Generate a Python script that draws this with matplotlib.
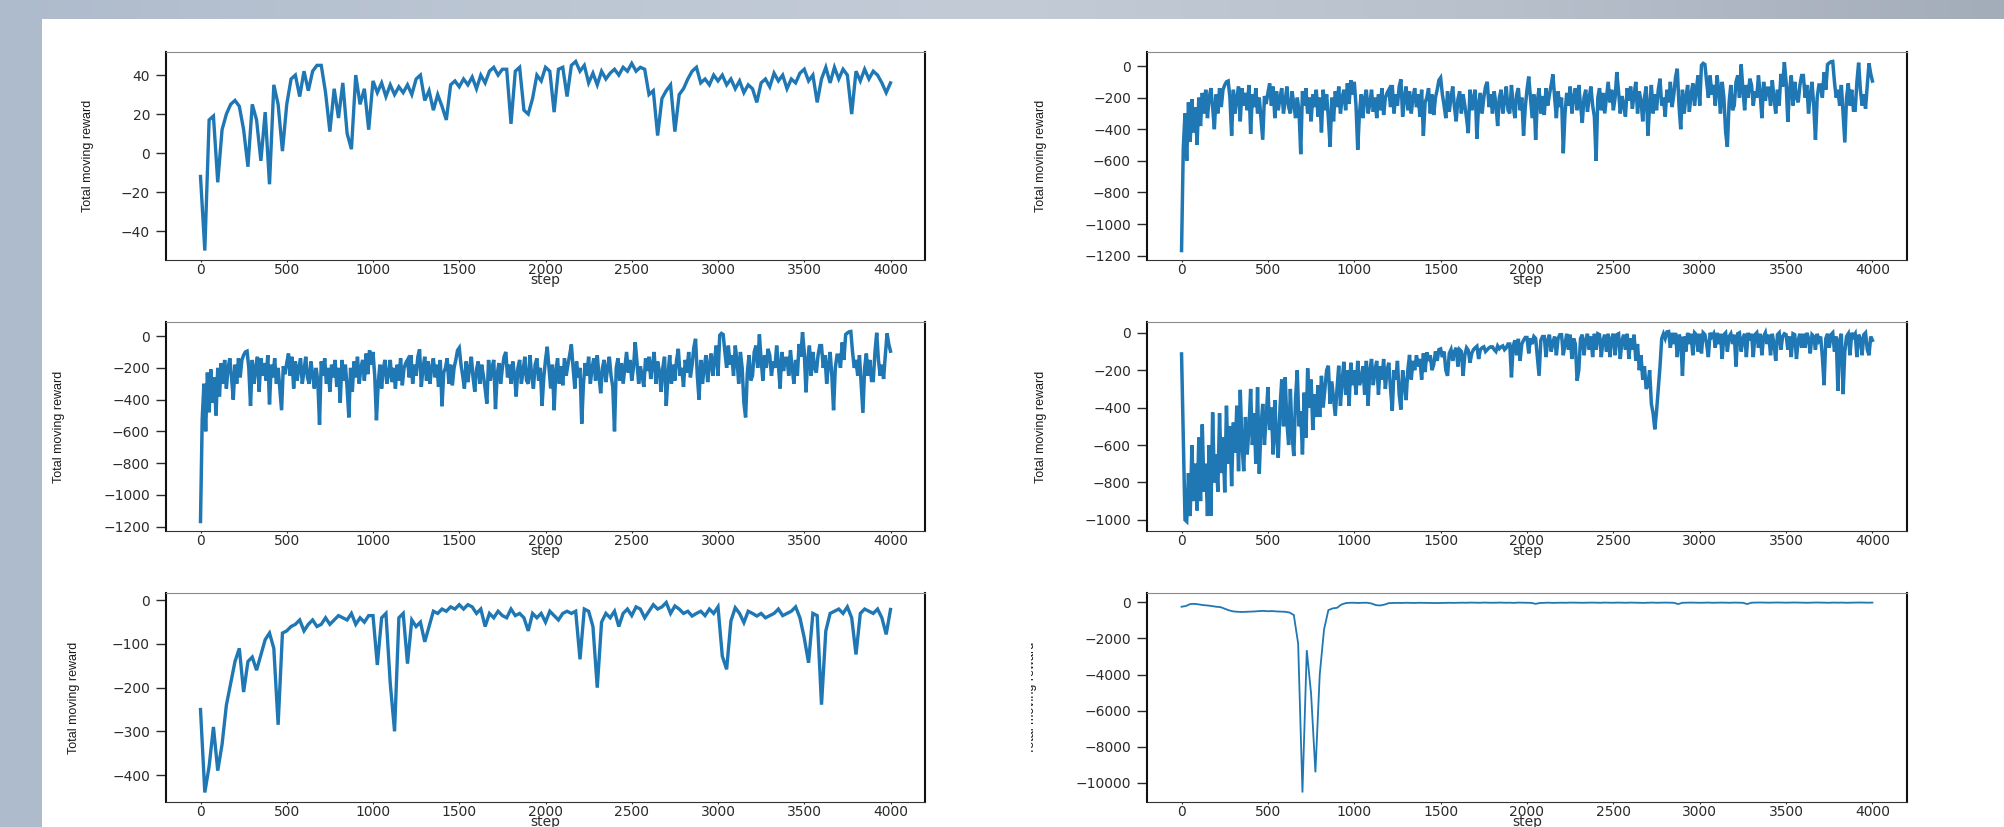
import numpy as np
import matplotlib
matplotlib.use("Agg")
import matplotlib.pyplot as plt
from matplotlib.colors import LinearSegmentedColormap
from matplotlib.patches import Rectangle
from matplotlib.transforms import Bbox, TransformedBbox

# =============================================================================
# DATA (moving reward, sampled every 25 or every 10 steps)
# =============================================================================

STEPS = np.arange(0, 4001, 25)
STEPS_FINE = np.arange(0, 4001, 10)

REWARD_A = [
    -12, -50, 17, 19, -15, 12, 20, 25,
    27, 24, 12, -7, 25, 17, -4, 21,
    -16, 35, 25, 1, 25, 38, 40, 29,
    42, 32, 42, 45, 45, 31, 11, 33,
    18, 36, 10, 2, 40, 25, 33, 12,
    37, 31, 36, 29, 35, 30, 34, 31,
    35, 30, 38, 40, 27, 32, 22, 30,
    24, 17, 35, 37, 34, 38, 35, 39,
    33, 40, 36, 42, 44, 40, 43, 43,
    15, 42, 44, 22, 20, 28, 40, 37,
    44, 42, 21, 43, 44, 29, 45, 47,
    42, 45, 36, 41, 35, 42, 38, 41,
    43, 40, 44, 42, 46, 42, 44, 43,
    30, 32, 9, 28, 32, 35, 11, 30,
    33, 38, 42, 44, 36, 38, 35, 40,
    37, 40, 35, 38, 33, 37, 31, 35,
    33, 26, 36, 38, 34, 41, 37, 40,
    33, 38, 36, 41, 43, 37, 40, 26,
    38, 44, 36, 44, 38, 43, 40, 20,
    42, 37, 43, 38, 42, 40, 36, 31,
    36,
]

# every 10 steps
REWARD_B = [
    -1168, -520, -300, -600, -230, -480, -210, -420, -260, -500,
    -200, -380, -170, -300, -150, -330, -200, -140, -260, -400,
    -180, -300, -140, -260, -150, -120, -100, -95, -200, -440,
    -150, -300, -200, -130, -350, -140, -250, -170, -280, -120,
    -430, -180, -260, -140, -300, -200, -330, -467, -190, -240,
    -170, -110, -250, -130, -330, -160, -280, -200, -140, -300,
    -220, -130, -260, -300, -160, -240, -330, -200, -280, -558,
    -160, -250, -140, -300, -200, -350, -180, -260, -150, -320,
    -200, -420, -150, -280, -180, -330, -512, -200, -350, -160,
    -260, -130, -300, -200, -150, -280, -110, -240, -90, -180,
    -100, -250, -530, -300, -180, -330, -200, -150, -300, -240,
    -150, -290, -200, -330, -180, -280, -140, -310, -200, -170,
    -150, -260, -120, -300, -180, -250, -130, -84, -320, -200,
    -130, -280, -160, -300, -200, -140, -260, -180, -320, -150,
    -442, -230, -200, -140, -300, -180, -310, -200, -150, -90,
    -74, -180, -250, -330, -160, -290, -200, -130, -260, -350,
    -210, -160, -300, -180, -250, -330, -425, -150, -280, -200,
    -150, -460, -240, -170, -300, -200, -130, -100, -260, -180,
    -300, -160, -240, -380, -200, -150, -300, -220, -130, -280,
    -300, -120, -250, -330, -180, -140, -280, -200, -440, -260,
    -150, -67, -200, -330, -180, -467, -220, -140, -300, -190,
    -310, -140, -250, -180, -120, -53, -200, -330, -160, -260,
    -200, -552, -300, -170, -250, -130, -300, -200, -140, -280,
    -120, -250, -360, -200, -150, -290, -200, -130, -250, -320,
    -600, -200, -140, -280, -170, -300, -200, -100, -230, -150,
    -280, -200, -38, -160, -300, -190, -250, -320, -140, -220,
    -130, -270, -180, -100, -300, -160, -220, -350, -200, -130,
    -440, -250, -120, -300, -180, -280, -150, -80, -250, -200,
    -320, -150, -230, -100, -260, -180, -70, -17, -250, -400,
    -150, -300, -200, -120, -290, -180, -110, -250, -150, -60,
    -250, 5, 17, 10, -100, -200, -60, -180, -120, -250,
    -60, -150, -300, -100, -200, -420, -512, -230, -120, -280,
    -250, -100, -60, -200, 10, -150, -280, -120, -200, -80,
    -120, -250, -160, -200, -60, -180, -330, -100, -220, -140,
    -140, -250, -90, -200, -300, -150, -250, -50, -130, 25,
    -100, -354, -150, -60, -250, -100, -200, -230, -120, -60,
    -60, -200, -120, -300, -180, -100, -250, -467, -200, -120,
    -120, -200, -40, -150, 10, 20, 27, 29, -100, -200,
    -150, -250, -120, -300, -484, -200, -110, -250, -150, -280,
    -280, -100, 21, -150, -250, -180, -270, -120, 17, -50,
    -95,
]

# every 10 steps
REWARD_C = [
    -113, -570, -1000, -1009, -750, -980, -600, -900, -700, -950,
    -560, -900, -490, -850, -700, -980, -600, -978, -426, -800,
    -650, -850, -430, -750, -560, -853, -390, -700, -500, -820,
    -480, -640, -390, -740, -305, -600, -740, -450, -650, -520,
    -300, -600, -430, -700, -292, -753, -500, -380, -600, -450,
    -290, -520, -400, -650, -360, -560, -668, -400, -250, -500,
    -238, -480, -600, -300, -550, -659, -350, -200, -500, -420,
    -650, -320, -561, -190, -400, -250, -520, -330, -450, -280,
    -450, -230, -400, -300, -200, -176, -380, -260, -350, -444,
    -300, -176, -390, -250, -155, -330, -200, -390, -160, -280,
    -200, -330, -150, -280, -250, -180, -330, -150, -390, -200,
    -140, -280, -200, -150, -330, -180, -250, -140, -300, -200,
    -160, -300, -417, -200, -250, -150, -330, -410, -200, -270,
    -360, -200, -118, -250, -150, -200, -120, -180, -140, -250,
    -110, -210, -104, -150, -120, -200, -170, -100, -150, -90,
    -86, -130, -100, -200, -230, -110, -90, -150, -100, -80,
    -180, -90, -100, -230, -120, -80, -93, -160, -110, -90,
    -80, -72, -140, -90, -80, -75, -100, -90, -80, -75,
    -75, -90, -100, -70, -85, -75, -70, -90, -80, -60,
    -60, -238, -70, -40, -120, -32, -150, -60, -40, -25,
    -25, -110, -30, -60, -20, -30, -130, -230, -40, -20,
    -20, -130, -40, -10, -100, -50, -20, -120, -30, -10,
    -10, -120, -60, -5, -90, -10, -140, -30, -60, -256,
    -200, -30, -10, -120, -40, -5, -90, -20, -130, -5,
    -90, -5, -10, -130, -40, -10, -100, -5, -130, -30,
    -5, -120, -10, -5, -140, -40, -10, -90, -5, -140,
    -30, -90, -10, -150, -60, -200, -120, -250, -180, -300,
    -280, -200, -380, -430, -516, -420, -300, -180, -30, -5,
    -30, 5, 7, -80, 0, -60, 0, -130, -10, -30,
    -230, -20, -100, 0, -60, -5, -120, 0, -10, -100,
    -5, -110, 0, -10, -60, -130, 0, -20, -5, -80,
    0, -60, -5, -140, -10, 0, -100, -20, -5, -60,
    -10, -180, -5, 0, -100, -30, -5, -130, 0, -40,
    -5, -130, -10, 0, -80, -5, -120, -20, 0, -60,
    -10, -120, -5, -60, -150, -10, 0, -90, -20, -5,
    -10, -90, -20, -130, -5, -10, -140, -40, -5, -80,
    -5, -80, 0, -30, -110, -10, -20, -90, -5, -40,
    -20, -130, -280, -30, -5, -80, -10, 0, -100, -20,
    -310, -40, -5, -328, -100, -20, -5, -120, 0, -20,
    -5, -130, -10, -30, -120, -10, 0, -90, -120, -20,
    -40,
]

REWARD_D = [
    -250, -440, -380, -290, -390, -330, -240, -190,
    -140, -110, -210, -140, -130, -160, -125, -90,
    -75, -110, -285, -75, -70, -60, -55, -45,
    -70, -55, -45, -60, -55, -40, -55, -45,
    -35, -40, -45, -30, -55, -40, -50, -35,
    -35, -148, -40, -30, -190, -300, -40, -30,
    -145, -45, -60, -50, -95, -60, -25, -30,
    -20, -25, -15, -20, -10, -20, -10, -15,
    -30, -20, -60, -30, -40, -25, -35, -40,
    -20, -35, -30, -40, -70, -30, -40, -30,
    -50, -25, -35, -45, -30, -25, -30, -25,
    -135, -20, -25, -60, -200, -50, -30, -40,
    -25, -60, -30, -20, -35, -15, -20, -40,
    -25, -10, -20, -15, -5, -30, -13, -20,
    -30, -25, -36, -30, -25, -35, -20, -30,
    -15, -128, -158, -47, -17, -30, -51, -25,
    -30, -36, -30, -40, -35, -30, -20, -35,
    -30, -25, -15, -40, -86, -143, -30, -35,
    -239, -70, -30, -25, -20, -30, -15, -40,
    -124, -30, -20, -25, -30, -20, -40, -78,
    -21,
]

REWARD_E = [
    -240, -200, -90, -80, -110, -150, -170, -200,
    -240, -260, -350, -440, -500, -520, -530, -520,
    -510, -500, -480, -470, -490, -480, -500, -510,
    -520, -560, -700, -2280, -10540, -2650, -5060, -9420,
    -4000, -1500, -430, -330, -300, -120, -40, -20,
    -20, -30, -20, -20, -60, -150, -170, -120,
    -40, -30, -25, -30, -20, -25, -30, -20,
    -25, -30, -40, -35, -30, -25, -20, -25,
    -20, -15, -20, -10, -15, -20, -10, -15,
    -20, -15, -10, -20, -15, -25, -10, -15,
    -20, -25, -80, -30, -20, -15, -25, -20,
    -15, -20, -10, -15, -25, -20, -15, -10,
    -15, -20, -10, -15, -20, -10, -15, -20,
    -10, -15, -20, -25, -15, -10, -20, -15,
    -10, -15, -20, -90, -20, -15, -10, -15,
    -20, -15, -10, -20, -15, -10, -15, -20,
    -10, -15, -20, -90, -15, -10, -5, -10,
    -15, -10, -5, -10, -15, -10, -5, -10,
    -15, -20, -10, -5, -10, -15, -20, -10,
    -15, -10, -20, -15, -10, -5, -10, -15,
    -10,
]

X_TICKS = [0, 500, 1000, 1500, 2000, 2500, 3000, 3500, 4000]
Y_TICKS_A = [-40, -20, 0, 20, 40]
Y_TICKS_B = [-1200, -1000, -800, -600, -400, -200, 0]
Y_TICKS_C = [-1000, -800, -600, -400, -200, 0]
Y_TICKS_D = [-400, -300, -200, -100, 0]
Y_TICKS_E = [-10000, -8000, -6000, -4000, -2000, 0]

X_LABEL = "step"
Y_LABEL = "Total moving reward"

# =============================================================================
# LAYOUT (pixel boxes on the slide)
# =============================================================================

W, H = 2004, 827
COLS = [(166, 925), (1147, 1907)]
ROWS = [(52, 260), (322, 531), (593, 802)]
LINE_COLOR = "#1f77b4"
TEXT_COLOR = "#2b2b2b"

# (row, col, x, values, yticks, linewidth, right edge of ylabel in px)
PANELS = [
    (0, 0, STEPS, REWARD_A, Y_TICKS_A, 2.4, 94),
    (0, 1, STEPS_FINE, REWARD_B, Y_TICKS_B, 2.5, 1047),
    (1, 0, STEPS_FINE, REWARD_B, Y_TICKS_B, 2.5, 65),
    (1, 1, STEPS_FINE, REWARD_C, Y_TICKS_C, 2.5, 1047),
    (2, 0, STEPS, REWARD_D, Y_TICKS_D, 2.4, 80),
    (2, 1, STEPS, REWARD_E, Y_TICKS_E, 1.3, 1037),
]


def px_box(col, row):
    """Figure-fraction rect from pixel extents"""
    x0, x1 = COLS[col]
    y0, y1 = ROWS[row]
    return [x0 / W, (H - y1) / H, (x1 - x0) / W, (y1 - y0) / H]


fig = plt.figure(figsize=(W / 100, H / 100), dpi=100)
fig.patch.set_facecolor("#aeb9c8")

# slide background and white content panel
bg = fig.add_axes([0, 0, 1, 1], zorder=-10)
grad = np.linspace(0, 1, 256).reshape(1, -1)
bg_cmap = LinearSegmentedColormap.from_list(
    "slide", ["#aebbcc", "#bcc6d3", "#c3cbd7", "#b8c0cc", "#a3acb9"])
bg.imshow(grad, aspect="auto", cmap=bg_cmap, extent=[0, 1, 0, 1])
bg.add_patch(Rectangle((42 / W, 0), 1 - 42 / W, (H - 19) / H,
                       facecolor="white", edgecolor="none"))
bg.set_xlim(0, 1)
bg.set_ylim(0, 1)
bg.axis("off")

tick_font = {"family": "DejaVu Sans", "size": 10}
label_font = {"family": ["Liberation Sans Narrow", "Liberation Sans"],
              "size": 9, "stretch": "condensed"}

for row, col, steps, values, yticks, lw, label_px in PANELS:
    ax = fig.add_axes(px_box(col, row))
    ax.plot(steps, values, color=LINE_COLOR, lw=lw, solid_joinstyle="miter")
    ax.set_xticks(X_TICKS)
    ax.set_yticks(yticks)
    ax.tick_params(axis="y", length=7.5, width=1.0, pad=4.0,
                   colors=TEXT_COLOR, labelsize=tick_font["size"])
    ax.tick_params(axis="x", length=1.5, width=0.8, pad=0.6,
                   colors=TEXT_COLOR, labelsize=tick_font["size"])
    for side in ("left", "right"):
        ax.spines[side].set_color("#111111")
        ax.spines[side].set_linewidth(1.5)
    ax.spines["top"].set_color("#8a8a8a")
    ax.spines["bottom"].set_color("#333333")
    ax.set_xlabel(X_LABEL, fontdict=tick_font, color=TEXT_COLOR, labelpad=-2.5)

    ylab = ax.set_ylabel(Y_LABEL, fontdict=label_font, color="#1a1a1a")
    x0, x1 = COLS[col]
    ax.yaxis.set_label_coords((label_px - x0) / (x1 - x0), 0.5)

    if (row, col) == (2, 1):
        # only the lower half of this label's glyphs shows
        clip = TransformedBbox(Bbox.from_extents(1031 / W, 0, 1, 1),
                               fig.transFigure)
        ylab.set_clip_box(clip)
        ylab.set_clip_on(True)

fig.savefig("out.png", dpi=100, facecolor=fig.get_facecolor())
